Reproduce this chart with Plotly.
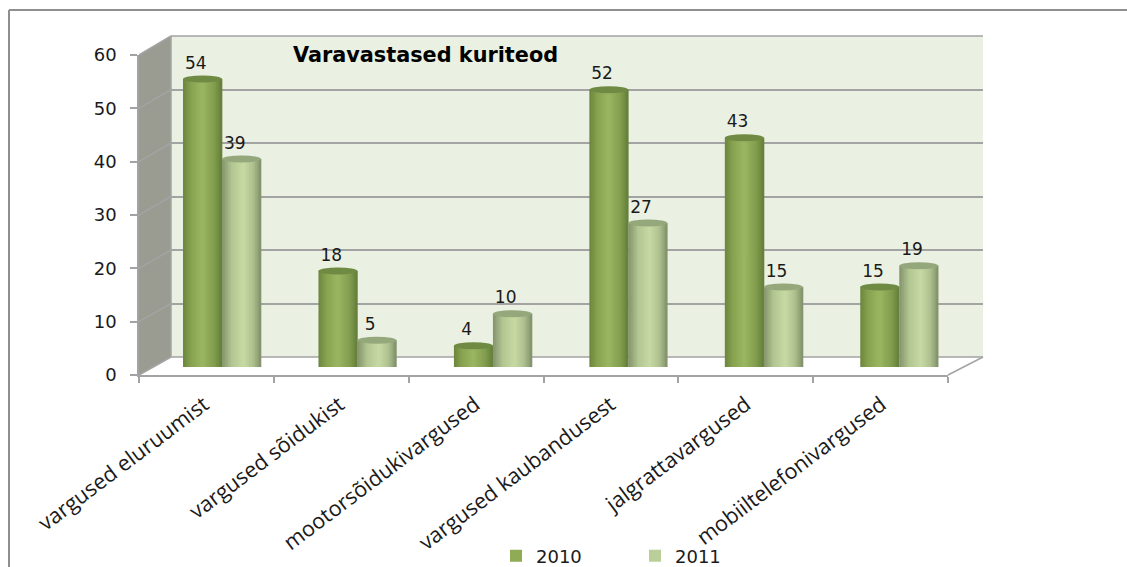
import numpy as np
import plotly.graph_objects as go

categories = ["vargused eluruumist", "vargused sõidukist", "mootorsõidukivargused",
              "vargused kaubandusest", "jalgrattavargused", "mobiiltelefonivargused"]
values_2010 = [54, 18, 4, 52, 43, 15]
values_2011 = [39, 5, 10, 27, 15, 19]
y_ticks = [0, 10, 20, 30, 40, 50, 60]

W, H = 1127, 567
def px(x): return x / W
def py(y): return 1 - y / H
def path(pts):
    return "M" + "L".join(f"{px(a):.5f},{py(b):.5f}" for a, b in pts) + "Z"

GRID = "#A3A3A3"
# pixel frame of the pseudo-3D box
FX0, FX1, FY0, FY1 = 139, 948, 375, 55      # front axes
BX0, BX1, BY0, BY1 = 171, 983, 357, 36      # back wall
CX0, CX1 = 154.3, 967                       # category band of bars
BY_BAR0, BY_BAR1 = 367, 47                  # value axis of bars

shapes = [
    dict(type="path", path=path([(BX0, BY0), (BX1, BY0), (BX1, BY1), (BX0, BY1)]),
         xref="paper", yref="paper", fillcolor="#EAF0E2", line_width=0, layer="below"),
    dict(type="path", path=path([(FX0, FY0), (BX0, BY0), (BX0, BY1), (FX0, FY1)]),
         xref="paper", yref="paper", fillcolor="#9A9C92", line_width=0, layer="below"),
    dict(type="path", path=path([(FX0, FY0), (FX1, FY0), (BX1, BY0), (BX0, BY0)]),
         xref="paper", yref="paper", fillcolor="#FFFFFF", line_width=0, layer="below"),
    dict(type="line", x0=px(9), x1=1, y0=py(10), y1=py(10), xref="paper", yref="paper",
         line=dict(color="#8F8F8F", width=2)),
    dict(type="line", x0=px(9), x1=px(9), y0=py(10), y1=0, xref="paper", yref="paper",
         line=dict(color="#8F8F8F", width=2)),
    dict(type="line", x0=px(FX1), x1=px(BX1), y0=py(FY0), y1=py(BY0), xref="paper", yref="paper",
         line=dict(color=GRID, width=1.5), layer="below"),
    dict(type="line", x0=px(BX0), x1=px(BX0), y0=py(BY0), y1=py(BY1), xref="paper", yref="paper",
         line=dict(color=GRID, width=1.5), layer="below"),
    dict(type="line", x0=px(BX0), x1=px(BX1), y0=py(BY0), y1=py(BY0), xref="paper", yref="paper",
         line=dict(color=GRID, width=1.5), layer="below"),
    dict(type="line", x0=px(BX0), x1=px(BX1), y0=py(BY1), y1=py(BY1), xref="paper", yref="paper",
         line=dict(color=GRID, width=1.5), layer="below"),
]
for t in y_ticks:
    f = t / 60
    yf = FY0 + (FY1 - FY0) * f
    yb = BY0 + (BY1 - BY0) * f
    shapes.append(dict(type="line", x0=px(FX0), x1=px(BX0), y0=py(yf), y1=py(yb),
                       xref="paper", yref="paper", line=dict(color=GRID, width=1.5), layer="below"))

fig = go.Figure()

# invisible trace that owns the wall grid (base subplot)
fig.add_trace(go.Scatter(x=[0, 1], y=[0, 60], mode="markers", marker=dict(opacity=0),
                         xaxis="x", yaxis="y", showlegend=False, hoverinfo="skip"))
# trace owning the front value axis and x ticks
fig.add_trace(go.Scatter(x=[0, 6], y=[0, 60], mode="markers", marker=dict(opacity=0),
                         xaxis="x3", yaxis="y3", showlegend=False, hoverinfo="skip"))

BAR_W = 0.288
ELL = 3.5 / 5.33   # half-height of the elliptic ends, in value units
N = 26
def shade(stops, t):
    xs = [s[0] for s in stops]
    return "rgb(%d,%d,%d)" % tuple(np.interp(t, xs, [s[1][i] for s in stops]) for i in range(3))

stops_2010 = [(0, (108, 134, 62)), (0.2, (135, 163, 80)), (0.5, (155, 183, 98)),
              (0.8, (130, 158, 78)), (1, (100, 126, 58))]
stops_2011 = [(0, (132, 148, 108)), (0.25, (178, 198, 146)), (0.55, (200, 218, 164)),
              (0.8, (174, 192, 142)), (1, (128, 144, 106))]
series = [("2010", values_2010, -1, stops_2010, "#8FAB56", "#6F8A42"),
          ("2011", values_2011, 0, stops_2011, "#BCCE98", "#94A87C")]
xs = np.arange(len(categories))

for name, vals, side, stops, swatch, top in series:
    for k in range(N):
        t0, t1 = k / N, (k + 1) / N
        tm = (t0 + t1) / 2
        drop = ELL * np.sqrt(max(0, 1 - (2 * tm - 1) ** 2))
        fig.add_trace(go.Bar(
            x=xs, y=[v + drop for v in vals], base=-drop,
            offset=(side + t0) * BAR_W, width=min(1 - t0, 2.2 / N) * BAR_W,
            marker=dict(color=shade(stops, tm), line_width=0),
            xaxis="x2", yaxis="y2", showlegend=False, hoverinfo="skip"))
    for i, v in zip(xs, vals):
        c = i + (side + 0.5) * BAR_W
        shapes.append(dict(type="circle", xref="x2", yref="y2", layer="above",
                           x0=c - BAR_W / 2, x1=c + BAR_W / 2, y0=v - ELL, y1=v + ELL,
                           fillcolor=top, line_width=0))
    # legend key
    fig.add_trace(go.Bar(x=[None], y=[None], name=name, marker=dict(color=swatch, line_width=0),
                         xaxis="x2", yaxis="y2", showlegend=True))
    # value labels
    fig.add_trace(go.Scatter(
        x=xs + (side + 0.5) * BAR_W - 0.05, y=vals, mode="text+markers", text=[str(v) for v in vals],
        marker=dict(size=8, opacity=0),
        textposition="top center", textfont=dict(family="DejaVu Sans", size=17, color="#1A1A1A"),
        xaxis="x2", yaxis="y2", showlegend=False, hoverinfo="skip"))

fig.update_layout(
    width=W, height=H, autosize=False, margin=dict(l=0, r=0, t=0, b=0, autoexpand=False),
    paper_bgcolor="white", plot_bgcolor="rgba(0,0,0,0)", barmode="overlay", shapes=shapes,
    title=dict(text="<b>Varavastased kuriteod</b>", x=px(293), xanchor="left", xref="paper",
               y=py(55), yanchor="middle", yref="paper", automargin=False,
               font=dict(family="DejaVu Sans", size=20.8, color="#000000")),
    # base: wall with grid
    xaxis=dict(domain=[px(BX0), px(BX1)], range=[0, 1], visible=False, anchor="y"),
    yaxis=dict(domain=[py(BY0), py(BY1)], range=[0, 60], tickvals=y_ticks, showgrid=True,
               gridcolor=GRID, gridwidth=1.5, showticklabels=False, ticks="", zeroline=False,
               showline=False, anchor="x"),
    # bars
    xaxis2=dict(domain=[px(CX0), px(CX1)], range=[-0.5, 5.5], tickvals=list(xs), ticktext=categories,
                tickangle=-37, ticks="", showline=False, showgrid=False, zeroline=False,
                anchor="y2", ticklabelstandoff=20, ticklabelshift=-18,
                tickfont=dict(family="Open Sans", size=21.5, color="#1A1A1A")),
    yaxis2=dict(domain=[py(BY_BAR0), py(BY_BAR1)], range=[0, 60], visible=False, anchor="x2"),
    # front axes
    xaxis3=dict(domain=[px(FX0), px(FX1)], range=[0, 6], tickvals=list(range(7)), showticklabels=False,
                ticks="outside", ticklen=6, tickcolor=GRID, tickwidth=1.5, showline=True, linecolor=GRID,
                linewidth=1.5, showgrid=False, zeroline=False, anchor="y3"),
    yaxis3=dict(domain=[py(FY0), py(FY1)], range=[0, 60], tickvals=y_ticks, ticks="outside", ticklen=7,
                tickcolor=GRID, tickwidth=1.5, showline=True, linecolor=GRID, linewidth=1.5, showgrid=False,
                zeroline=False, anchor="x3", ticklabelstandoff=10,
                tickfont=dict(family="DejaVu Sans", size=18, color="#1A1A1A")),
    legend=dict(orientation="h", x=px(496), y=py(556), xanchor="left", yanchor="middle",
                entrywidth=94, entrywidthmode="pixels", bgcolor="rgba(0,0,0,0)",
                font=dict(family="DejaVu Sans", size=18, color="#1A1A1A")),
)

fig.write_html("out.html", config=dict(displayModeBar=False),
               post_script="document.body.style.margin='0';document.body.style.overflow='hidden';")
